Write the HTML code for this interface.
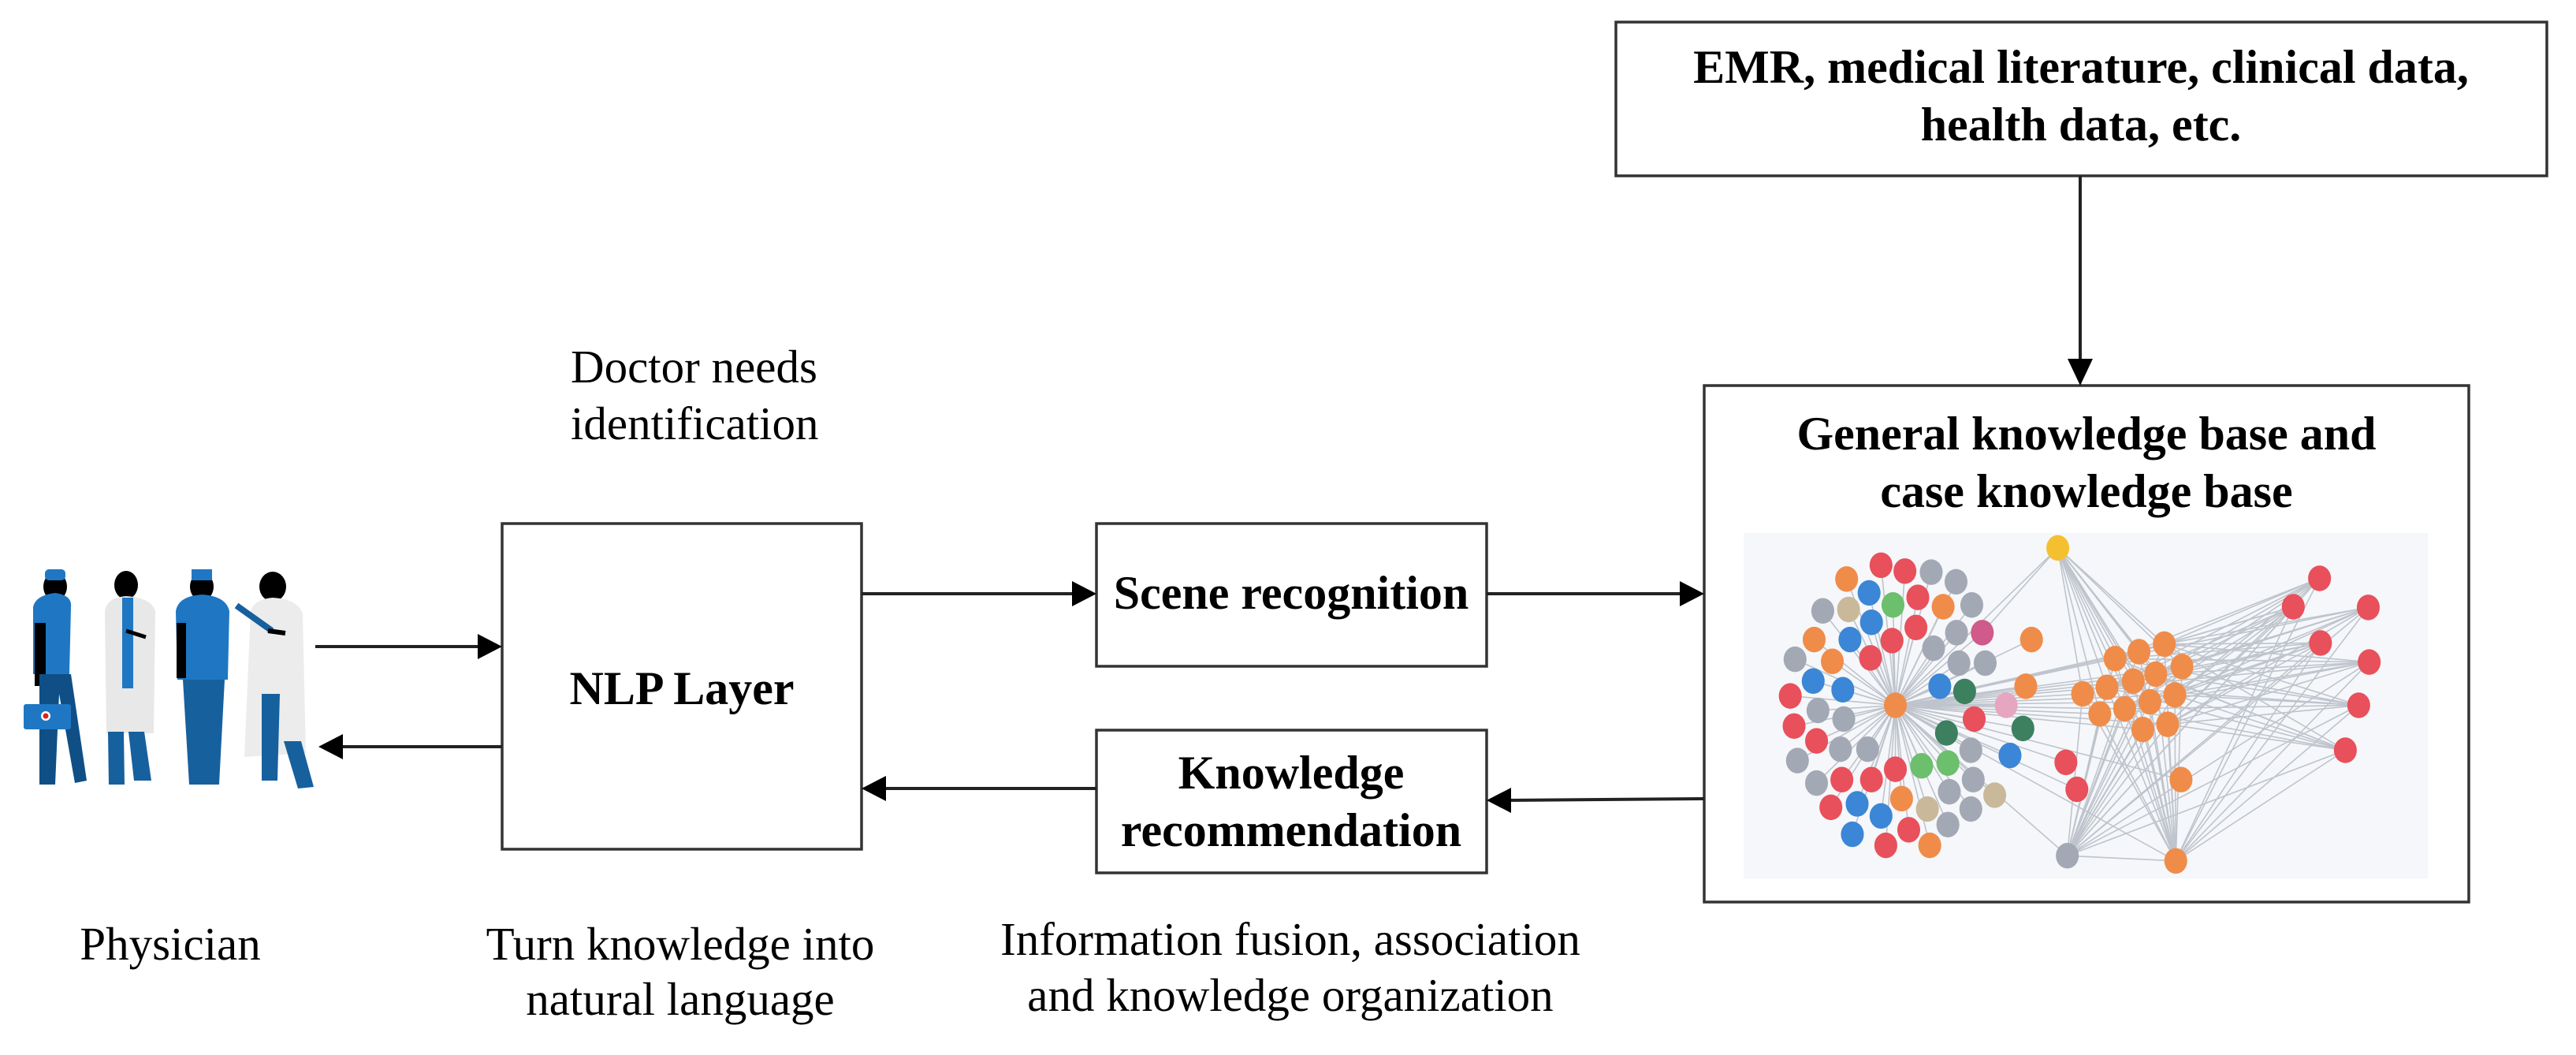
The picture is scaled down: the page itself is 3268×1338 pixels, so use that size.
<!DOCTYPE html>
<html><head><meta charset="utf-8"><style>
html,body{margin:0;padding:0;background:#fff;}
svg{display:block;}
text{font-family:"Liberation Serif",serif;fill:#000;}
.b{font-weight:bold;font-size:60px;}
.r{font-size:59px;}
</style></head><body>
<svg width="3268" height="1338" viewBox="0 0 3268 1338" xmlns="http://www.w3.org/2000/svg">
<!-- boxes -->
<g fill="#fff" stroke="#333" stroke-width="3.5">
<rect x="2050" y="28" width="1181" height="195"/>
<rect x="2162" y="489" width="970" height="655"/>
<rect x="637" y="664" width="456" height="413"/>
<rect x="1391" y="664" width="495" height="181"/>
<rect x="1391" y="926" width="495" height="181"/>
</g>
<!-- connectors -->
<g stroke="#222" stroke-width="4" fill="none">
<line x1="2639" y1="223" x2="2639" y2="460"/>
<line x1="1093" y1="753" x2="1365" y2="753"/>
<line x1="1886" y1="753" x2="2135" y2="753"/>
<line x1="2162" y1="1013" x2="1912" y2="1015"/>
<line x1="1391" y1="1000" x2="1120" y2="1000"/>
<line x1="400" y1="820" x2="612" y2="820"/>
<line x1="637" y1="947" x2="430" y2="947"/>
</g>
<g fill="#000">
<polygon points="2639,489 2623,455 2655,455"/>
<polygon points="1391,753 1360,737 1360,769"/>
<polygon points="2162,753 2131,737 2131,769"/>
<polygon points="1886,1015 1917,999 1917,1031"/>
<polygon points="1093,1000 1124,984 1124,1016"/>
<polygon points="637,820 606,804 606,836"/>
<polygon points="404,947 435,931 435,963"/>
</g>
<!-- text -->
<text class="b" x="2640" y="105" text-anchor="middle">EMR, medical literature, clinical data,</text>
<text class="b" x="2640" y="178" text-anchor="middle">health data, etc.</text>
<text class="b" x="2647" y="570" text-anchor="middle">General knowledge base and</text>
<text class="b" x="2647" y="643" text-anchor="middle">case knowledge base</text>
<text class="b" x="865" y="893" text-anchor="middle">NLP Layer</text>
<text class="b" x="1638" y="772" text-anchor="middle">Scene recognition</text>
<text class="b" x="1638" y="1000" text-anchor="middle">Knowledge</text>
<text class="b" x="1638" y="1073" text-anchor="middle">recommendation</text>
<text class="r" x="724" y="485">Doctor needs</text>
<text class="r" x="724" y="557">identification</text>
<text class="r" x="216" y="1217" text-anchor="middle">Physician</text>
<text class="r" x="863" y="1217" text-anchor="middle">Turn knowledge into</text>
<text class="r" x="863" y="1287" text-anchor="middle">natural language</text>
<text class="r" x="1637" y="1211" text-anchor="middle">Information fusion, association</text>
<text class="r" x="1637" y="1282" text-anchor="middle">and knowledge organization</text>
<!-- people -->
<g>
 <!-- fig1 -->
 <ellipse cx="70" cy="744" rx="15" ry="18" fill="#000"/>
 <rect x="57" y="722" width="26" height="14" rx="5" fill="#1f77c4"/>
 <path d="M42,770 Q45,755 70,752 Q92,755 90,770 L88,855 L42,855 Z" fill="#1f77c4"/>
 <rect x="44" y="790" width="14" height="80" fill="#000"/>
 <path d="M50,855 L90,855 L110,990 L95,993 L75,880 L70,995 L50,995 Z" fill="#0f4f86"/>
 <rect x="30" y="893" width="60" height="32" rx="3" fill="#1f77c4"/>
 <circle cx="58" cy="908" r="6" fill="#fff"/><circle cx="58" cy="908" r="3.5" fill="#e02020"/>
 <!-- fig2 -->
 <ellipse cx="160" cy="742" rx="15" ry="18" fill="#000"/>
 <path d="M133,775 Q135,758 160,756 Q192,758 197,775 L195,930 L135,930 Z" fill="#e8e8e8"/>
 <rect x="155" y="758" width="14" height="115" fill="#1f77c4"/>
 <line x1="160" y1="800" x2="185" y2="808" stroke="#000" stroke-width="5"/>
 <path d="M137,928 L157,928 L158,995 L138,995 Z" fill="#17609e"/>
 <path d="M163,928 L183,928 L192,990 L170,990 Z" fill="#17609e"/>
 <!-- fig3 -->
 <ellipse cx="256" cy="744" rx="15" ry="18" fill="#000"/>
 <rect x="243" y="722" width="26" height="14" fill="#1f77c4"/>
 <path d="M223,775 Q226,756 256,754 Q287,756 291,775 L289,862 L225,862 Z" fill="#1f77c4"/>
 <rect x="224" y="790" width="12" height="70" fill="#000"/>
 <path d="M232,862 L285,862 L278,995 L240,995 Z" fill="#17609e"/>
 <!-- fig4 -->
 <ellipse cx="346" cy="744" rx="17" ry="19" fill="#000"/>
 <path d="M318,775 Q322,760 346,758 Q378,760 384,778 L388,955 L310,960 Z" fill="#ececec"/>
 <line x1="300" y1="768" x2="345" y2="800" stroke="#17609e" stroke-width="8"/>
 <line x1="340" y1="800" x2="362" y2="803" stroke="#000" stroke-width="6"/>
 <path d="M332,880 L355,880 L352,990 L332,990 Z" fill="#17609e"/>
 <path d="M360,940 L382,940 L398,998 L378,1000 Z" fill="#17609e"/>
</g>
<!-- knowledge graph -->
<rect x="2212" y="676" width="868" height="438" fill="#f5f7fa"/>
<g transform="translate(2150,480) scale(0.606,0.4386)">
<g stroke="#bfc4cc" stroke-width="1.6" id="edges"></g>
<g id="nodes"></g>
</g>
</svg>
<script>
(function(){
var C={r:"#e8505b",o:"#f08c4a",g:"#a3a9b4",b:"#3b86d6",gr:"#6cbf6c",dg:"#3d8060",t:"#c9b99a",pk:"#e7a6c0",m:"#d05a8a",y:"#f5c030"};
var L=[[390,540,"r"],[440,557,"r"],[495,560,"g"],[547,588,"g"],[318,580,"o"],[365,620,"b"],[467,633,"r"],[520,660,"o"],[580,655,"g"],[268,672,"g"],[322,668,"t"],[415,655,"gr"],[370,705,"b"],[463,720,"r"],[548,735,"g"],[602,735,"m"],[250,755,"o"],[325,755,"b"],[413,758,"r"],[500,780,"g"],[210,812,"g"],[288,818,"o"],[368,808,"r"],[553,823,"g"],[608,823,"g"],[248,875,"b"],[310,900,"b"],[513,890,"b"],[565,905,"dg"],[200,918,"r"],[258,960,"g"],[312,985,"g"],[585,985,"r"],[208,1005,"r"],[255,1048,"r"],[527,1025,"dg"],[305,1072,"g"],[362,1072,"g"],[578,1075,"g"],[215,1105,"g"],[420,1130,"r"],[475,1120,"gr"],[530,1112,"gr"],[255,1170,"g"],[308,1160,"r"],[370,1160,"r"],[583,1160,"g"],[433,1215,"o"],[533,1195,"g"],[285,1240,"r"],[340,1230,"b"],[390,1265,"b"],[487,1245,"t"],[578,1245,"g"],[628,1205,"t"],[448,1305,"r"],[530,1290,"g"],[330,1318,"b"],[400,1350,"r"],[492,1350,"o"]];
var H=[420,945,"o"];
var M=[[760,490,"y"],[705,755,"o"],[693,890,"o"],[652,945,"pk"],[687,1012,"dg"],[660,1090,"b"],[777,1110,"r"],[800,1188,"r"],[780,1380,"g"],[1007,1395,"o"],[1018,1160,"o"]];
var O=[[880,810,"o"],[930,790,"o"],[983,768,"o"],[1020,833,"o"],[965,855,"o"],[918,875,"o"],[863,893,"o"],[812,912,"o"],[1005,915,"o"],[953,935,"o"],[900,955,"o"],[848,970,"o"],[990,1000,"o"],[938,1015,"o"]];
var R=[[1308,578,"r"],[1253,660,"r"],[1410,662,"r"],[1310,765,"r"],[1412,820,"r"],[1390,945,"r"],[1362,1075,"r"]];
var ns="http://www.w3.org/2000/svg";
var E=document.getElementById("edges"),N=document.getElementById("nodes");
function ln(a,b){var l=document.createElementNS(ns,"line");l.setAttribute("x1",a[0]);l.setAttribute("y1",a[1]);l.setAttribute("x2",b[0]);l.setAttribute("y2",b[1]);l.setAttribute("vector-effect","non-scaling-stroke");E.appendChild(l);}
L.forEach(function(p){ln(H,p);});
O.forEach(function(p){ln(H,p);ln(M[0],p);ln(M[8],p);ln(M[9],p);});
R.forEach(function(p){O.forEach(function(q,i){if(i%2==0)ln(p,q);});ln(p,M[9]);ln(p,M[8]);});
M.forEach(function(p){ln(H,p);});
ln(M[0],L[15]);ln(M[8],M[9]);
function nd(p){var e=document.createElementNS(ns,"ellipse");e.setAttribute("cx",p[0]);e.setAttribute("cy",p[1]);e.setAttribute("rx",24);e.setAttribute("ry",37);e.setAttribute("fill",C[p[2]]);N.appendChild(e);}
L.concat([H],M,O,R).forEach(nd);
})();
</script>
</body></html>
